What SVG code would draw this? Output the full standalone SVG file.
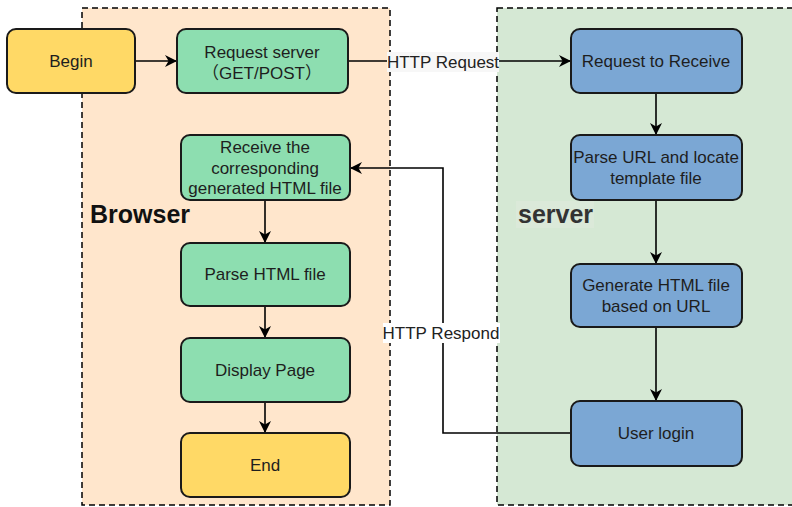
<svg xmlns="http://www.w3.org/2000/svg" width="792" height="507" viewBox="0 0 792 507">
<defs>
<style>
.cont{stroke:#000;stroke-width:1.5;stroke-dasharray:6,4}
.node{stroke:#1a1a1a;stroke-width:2}
.y{fill:#FFD966}
.g{fill:#8DDEB0}
.b{fill:#7BA7D4}
.t{font-family:"Liberation Sans",Arial,"Noto Sans CJK SC",sans-serif;font-size:17px;fill:#1e1e1e;text-anchor:middle}
.lbl{font-family:"Liberation Sans",Arial,sans-serif;font-size:17px;fill:#222;text-anchor:middle}
.big{font-family:"Liberation Sans",Arial,sans-serif;font-size:25px;font-weight:bold}
.edge{fill:none;stroke:#000;stroke-width:1.6}
</style>
<marker id="arr" viewBox="0 0 10 10" refX="10" refY="5" markerWidth="12" markerHeight="12" markerUnits="userSpaceOnUse" orient="auto">
<path d="M0,0 L10,5 L0,10 L3,5 Z" fill="#000"/>
</marker>
</defs>
<rect width="792" height="507" fill="#fff"/>
<g id="browser-container">
<rect class="cont" x="82" y="8" width="308" height="497" fill="#FFE6CC"/>
<text class="big" x="90" y="223" fill="#111">Browser</text>
</g>
<g id="server-container">
<rect class="cont" x="497" y="8" width="300" height="497" fill="#D5E8D4"/>
<rect x="516" y="201" width="78" height="27" fill="#dbe9d9"/>
<text class="big" x="518" y="223" fill="#333">server</text>
</g>
<g id="connectors">
<path class="edge" d="M135,61 H177" marker-end="url(#arr)"/>
<path class="edge" d="M348,61 H571" marker-end="url(#arr)"/>
<path class="edge" d="M656,93 V135" marker-end="url(#arr)"/>
<path class="edge" d="M656,200 V264" marker-end="url(#arr)"/>
<path class="edge" d="M656,327 V401" marker-end="url(#arr)"/>
<path class="edge" d="M571,433 H443 V168 H350" marker-end="url(#arr)"/>
<path class="edge" d="M265,200 V243" marker-end="url(#arr)"/>
<path class="edge" d="M265,306 V338" marker-end="url(#arr)"/>
<path class="edge" d="M265,402 V433" marker-end="url(#arr)"/>
<rect x="387" y="52" width="112" height="20" fill="#f7f7f7"/>
<text class="lbl" x="443" y="68">HTTP Request</text>
<rect x="383" y="323" width="117" height="20" fill="#fff"/>
<text class="lbl" x="441" y="339">HTTP Respond</text>
</g>
<g id="begin">
<rect class="node y" x="7" y="29" width="128" height="64" rx="9"/>
<text class="t" x="71" y="67">Begin</text>
</g>
<g id="request-server">
<rect class="node g" x="177" y="29" width="171" height="64" rx="9"/>
<text class="t" x="262" y="58">Request server</text>
<text class="t" x="262" y="79">（GET/POST）</text>
</g>
<g id="receive-html">
<rect class="node g" x="181" y="135" width="169" height="65" rx="9"/>
<text class="t" x="265" y="153">Receive the</text>
<text class="t" x="265" y="174">corresponding</text>
<text class="t" x="265" y="194">generated HTML file</text>
</g>
<g id="parse-html">
<rect class="node g" x="181" y="243" width="169" height="63" rx="9"/>
<text class="t" x="265" y="280">Parse HTML file</text>
</g>
<g id="display-page">
<rect class="node g" x="181" y="338" width="169" height="64" rx="9"/>
<text class="t" x="265" y="376">Display Page</text>
</g>
<g id="end">
<rect class="node y" x="181" y="433" width="169" height="64" rx="9"/>
<text class="t" x="265" y="471">End</text>
</g>
<g id="request-receive">
<rect class="node b" x="571" y="29" width="171" height="64" rx="9"/>
<text class="t" x="656" y="67">Request to Receive</text>
</g>
<g id="parse-url">
<rect class="node b" x="571" y="135" width="171" height="65" rx="9"/>
<text class="t" x="656" y="163">Parse URL and locate</text>
<text class="t" x="656" y="184">template file</text>
</g>
<g id="generate-html">
<rect class="node b" x="571" y="264" width="171" height="63" rx="9"/>
<text class="t" x="656" y="291">Generate HTML file</text>
<text class="t" x="656" y="312">based on URL</text>
</g>
<g id="user-login">
<rect class="node b" x="571" y="401" width="171" height="65" rx="9"/>
<text class="t" x="656" y="439">User login</text>
</g>
</svg>
